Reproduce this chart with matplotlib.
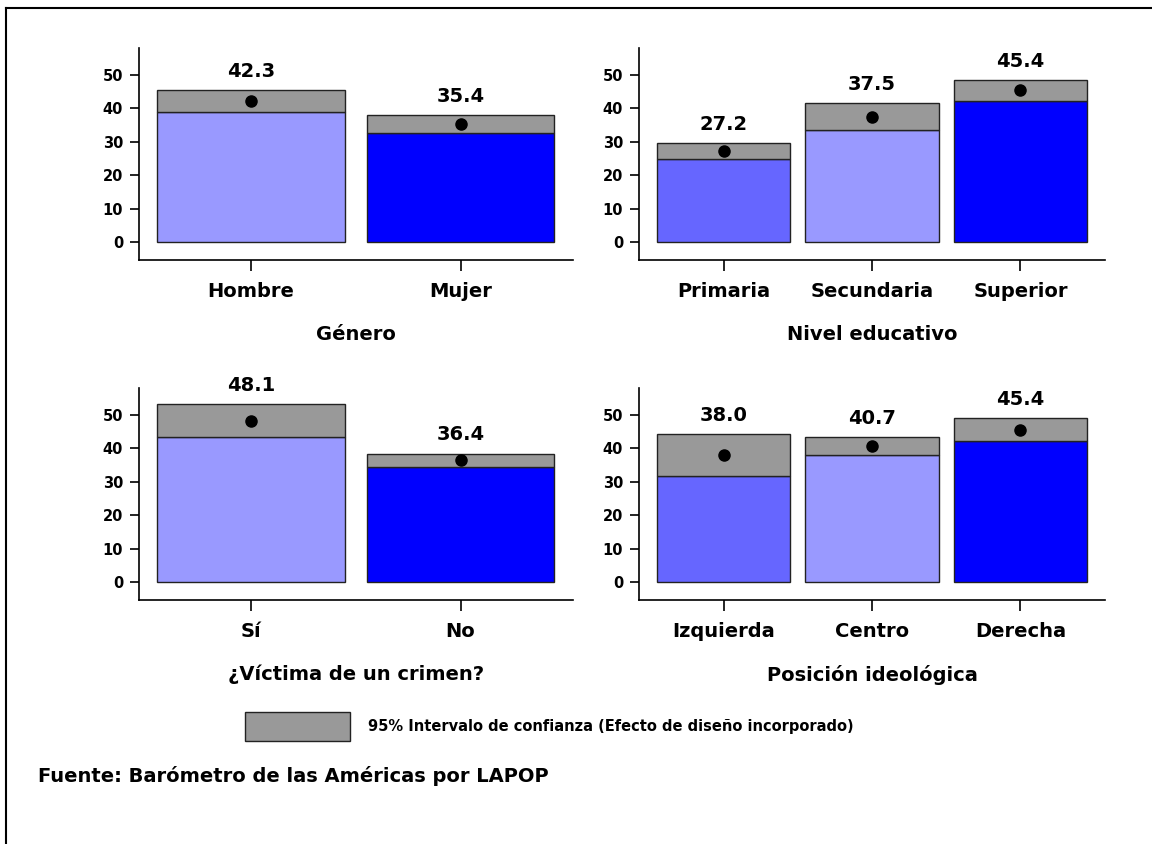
import matplotlib.pyplot as plt
from matplotlib.patches import Rectangle
from matplotlib.lines import Line2D

plt.rcParams['font.family'] = ['DejaVu Sans']
plt.rcParams['font.weight'] = 'bold'

# data: mean, lower and upper end of the 95% CI
genero_cats = ['Hombre', 'Mujer']
genero_mean = [42.3, 35.4]
genero_low = [38.8, 32.7]
genero_high = [45.4, 37.9]

nivel_cats = ['Primaria', 'Secundaria', 'Superior']
nivel_mean = [27.2, 37.5, 45.4]
nivel_low = [25.0, 33.4, 42.1]
nivel_high = [29.5, 41.5, 48.5]

victima_cats = ['Sí', 'No']
victima_mean = [48.1, 36.4]
victima_low = [43.4, 34.5]
victima_high = [53.1, 38.4]

ideo_cats = ['Izquierda', 'Centro', 'Derecha']
ideo_mean = [38.0, 40.7, 45.4]
ideo_low = [31.8, 38.1, 42.1]
ideo_high = [44.2, 43.4, 48.9]

light = '#9999FF'
mid = '#6666FF'
dark = '#0000FF'
grey = '#999999'

W, H = 1152, 844
fig = plt.figure(figsize=(W / 100, H / 100), dpi=100)


def px_axes(x0, y0, x1, y1):
    # axes from pixel box (top-left origin)
    return fig.add_axes([x0 / W, 1 - y1 / H, (x1 - x0) / W, (y1 - y0) / H])


def panel(ax, cats, mean, low, high, colors, xlabel, xlim):
    x = list(range(len(cats)))
    ax.bar(x, low, width=0.897, color=colors, edgecolor='#222222', linewidth=1.0)
    ax.bar(x, [h - l for h, l in zip(high, low)], bottom=low, width=0.897,
           color=grey, edgecolor='#222222', linewidth=1.0)
    ax.plot(x, mean, 'o', color='black', markersize=8, zorder=5)
    for xi, m, h in zip(x, mean, high):
        ax.annotate(f'{m:.1f}', xy=(xi, h), xytext=(0, 13.5),
                    textcoords='offset points', ha='center', va='center',
                    fontsize=14, fontweight='bold')
    ax.set_xlim(*xlim)
    ax.set_ylim(-5.3, 58)
    ax.set_yticks([0, 10, 20, 30, 40, 50])
    ax.set_xticks(x)
    ax.set_xticklabels(cats, fontsize=14, fontweight='bold')
    ax.set_xlabel(xlabel, fontsize=14, fontweight='bold', labelpad=17.5)
    ax.tick_params(axis='y', labelsize=10.5, length=6.5, width=1.2, pad=5)
    ax.tick_params(axis='x', length=8, width=1.2, pad=7.5)
    for s in ['top', 'right']:
        ax.spines[s].set_visible(False)
    for s in ['left', 'bottom']:
        ax.spines[s].set_linewidth(1.2)
    ax.set_facecolor('none')


ax1 = px_axes(139, 48, 573, 260)
panel(ax1, genero_cats, genero_mean, genero_low, genero_high,
      [light, dark], 'Género', (-0.535, 1.537))

ax2 = px_axes(639, 48, 1105, 260)
panel(ax2, nivel_cats, nivel_mean, nivel_low, nivel_high,
      [mid, light, dark], 'Nivel educativo', (-0.57, 2.57))

ax3 = px_axes(139, 388, 573, 600)
panel(ax3, victima_cats, victima_mean, victima_low, victima_high,
      [light, dark], '¿Víctima de un crimen?', (-0.535, 1.537))

ax4 = px_axes(639, 388, 1105, 600)
panel(ax4, ideo_cats, ideo_mean, ideo_low, ideo_high,
      [mid, light, dark], 'Posición ideológica', (-0.57, 2.57))

# legend box for the confidence interval
fig.patches.append(Rectangle((245 / W, 1 - 741 / H), 105 / W, 29 / H,
                             transform=fig.transFigure, facecolor=grey,
                             edgecolor='#222222', linewidth=1.0))
fig.text(368 / W, 1 - 727 / H, '95% Intervalo de confianza (Efecto de diseño incorporado)',
         fontsize=10.5, fontweight='bold', va='center', ha='left')

fig.text(38 / W, 1 - 776 / H, 'Fuente: Barómetro de las Américas por LAPOP',
         fontsize=14, fontweight='bold', va='center', ha='left')

# frame lines on the top and left edge
fig.lines.append(Line2D([6 / W, 1], [1 - 8 / H, 1 - 8 / H], transform=fig.transFigure,
                        color='black', linewidth=1.5))
fig.lines.append(Line2D([6 / W, 6 / W], [0, 1 - 8 / H], transform=fig.transFigure,
                        color='black', linewidth=1.5))

fig.savefig('out.png', dpi=100)
